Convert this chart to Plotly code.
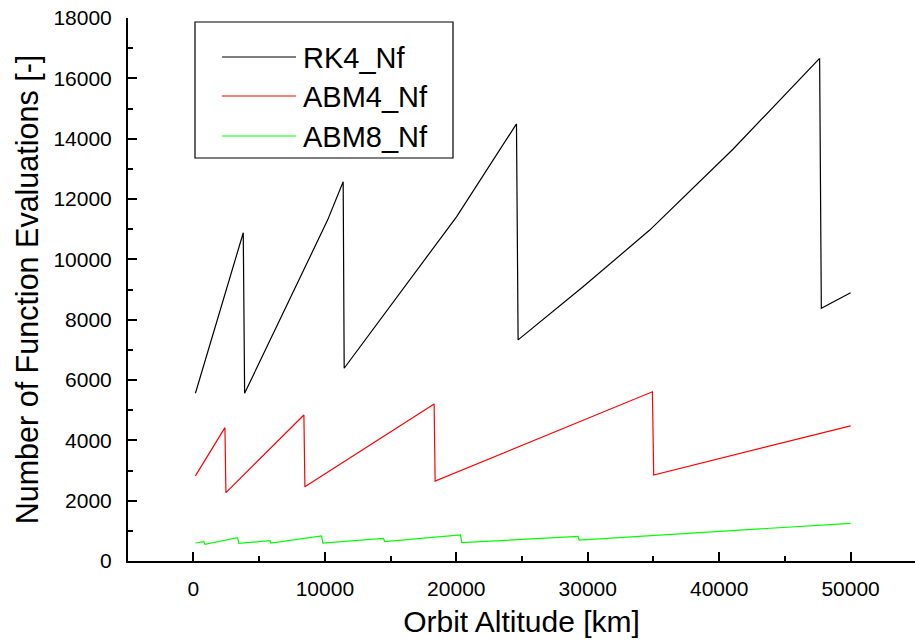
import plotly.graph_objects as go

# ---- data ----
rk4_alt = [150, 3790, 3894, 6580, 10205, 11392, 11468, 20015, 24578, 24701,
           29643, 34715, 41049, 47643, 47772, 50000]
rk4_nf = [5560, 10880, 5560, 7990, 11300, 12570, 6390, 11410, 14490, 7330,
          9090, 10970, 13650, 16660, 8380, 8890]

abm4_alt = [150, 2395, 2471, 8403, 8479, 18312, 18388, 34920, 35019, 50000]
abm4_nf = [2820, 4420, 2265, 4840, 2465, 5205, 2650, 5610, 2850, 4480]

abm8_alt = [150, 798, 875, 3359, 3460, 5817, 5894, 9746, 9848, 14450, 14560,
            20317, 20418, 29264, 29340, 50000]
abm8_nf = [597, 640, 552, 773, 586, 674, 597, 829, 597, 751, 643,
           862, 608, 818, 696, 1249]

series_names = ["RK4_Nf", "ABM4_Nf", "ABM8_Nf"]
series_colors = ["#000000", "#FF0000", "#00FF00"]
x_title = "Orbit Altitude [km]"
y_title = "Number of Function Evaluations [-]"

FONT = "Liberation Sans, Arial, sans-serif"

fig = go.Figure()
for xs, ys, name, col in zip([rk4_alt, abm4_alt, abm8_alt],
                             [rk4_nf, abm4_nf, abm8_nf],
                             series_names, series_colors):
    fig.add_trace(go.Scatter(x=xs, y=ys, mode="lines", name=name,
                             line=dict(color=col, width=1.2), showlegend=False))

# manual legend (box, line samples, labels) in paper coordinates
L, T, B = 128, 18, 561
PW, PH = 787, 543
def px(xp):
    return (xp - L) / PW
def py(yp):
    return (B - yp) / PH

shapes = [dict(type="rect", xref="paper", yref="paper",
               x0=px(195), x1=px(453), y0=py(158), y1=py(22),
               line=dict(color="black", width=1.2), fillcolor="white", layer="above")]
annotations = []
rows = [57, 96, 136]
for name, col, r in zip(series_names, series_colors, rows):
    shapes.append(dict(type="line", xref="paper", yref="paper",
                       x0=px(222), x1=px(296), y0=py(r), y1=py(r),
                       line=dict(color=col, width=1.2), layer="above"))
    annotations.append(dict(xref="paper", yref="paper", x=px(301), y=py(r + 1),
                            xanchor="left", yanchor="middle", text=name,
                            showarrow=False, font=dict(family=FONT, size=29, color="black")))

fig.update_layout(
    width=915, height=644,
    margin=dict(l=L, r=0, t=T, b=644 - B),
    paper_bgcolor="white", plot_bgcolor="white",
    font=dict(family=FONT, color="black"),
    shapes=shapes, annotations=annotations,
)
fig.update_xaxes(
    range=[-4980, 54900], showgrid=False, zeroline=False,
    showline=True, linecolor="black", linewidth=2,
    ticks="inside", ticklen=9, tickwidth=2, tickcolor="black",
    tick0=0, dtick=10000, tickformat="d", tickfont=dict(size=21, family=FONT),
    ticklabelstandoff=8,
    minor=dict(ticks="inside", ticklen=5, tickwidth=2, tickcolor="black", dtick=5000, tick0=0),
    title=dict(text=x_title, font=dict(size=30, family=FONT), standoff=12),
)
fig.update_yaxes(
    range=[0, 18000], showgrid=False, zeroline=False,
    showline=True, linecolor="black", linewidth=2,
    ticks="inside", ticklen=9, tickwidth=2, tickcolor="black",
    tick0=0, dtick=2000, tickformat="d", tickfont=dict(size=21, family=FONT),
    ticklabelstandoff=10,
    minor=dict(ticks="inside", ticklen=5, tickwidth=2, tickcolor="black", dtick=1000, tick0=0),
    title=dict(text=y_title, font=dict(size=30.5, family=FONT), standoff=6),
)

fig.write_html("out.html")
